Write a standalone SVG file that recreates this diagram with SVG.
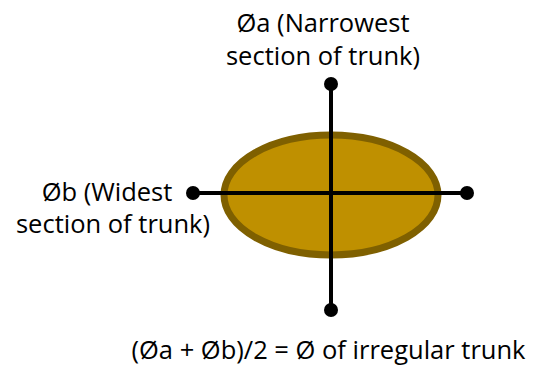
<svg xmlns="http://www.w3.org/2000/svg" width="533" height="375" viewBox="0 0 533 375">
<style>
text{font-family:"Open Sans","Liberation Sans",sans-serif;font-size:25.5px;fill:#000;text-anchor:middle}
.ln{stroke:#000;stroke-width:4;fill:none}
.dot{fill:#000}
</style>
<rect width="533" height="375" fill="#fff"/>
<g id="trunk">
<ellipse cx="331" cy="195" rx="107" ry="60" fill="#BF9000" stroke="#7F6000" stroke-width="7"/>
</g>
<g id="connectors">
<line class="ln" x1="331" y1="84" x2="331" y2="310"/>
<line class="ln" x1="193" y1="193" x2="467" y2="193"/>
<circle class="dot" cx="331" cy="84" r="7"/>
<circle class="dot" cx="331" cy="310" r="7"/>
<circle class="dot" cx="193" cy="193" r="7"/>
<circle class="dot" cx="467" cy="193" r="7"/>
</g>
<g id="label-a">
<text x="323" y="32">Øa (Narrowest</text>
<text x="323" y="65">section of trunk)</text>
</g>
<g id="label-b">
<text x="107" y="201">Øb (Widest</text>
<text x="113" y="233">section of trunk)</text>
</g>
<g id="formula">
<text x="328.5" y="359">(Øa + Øb)/2 = Ø of irregular trunk</text>
</g>
</svg>
